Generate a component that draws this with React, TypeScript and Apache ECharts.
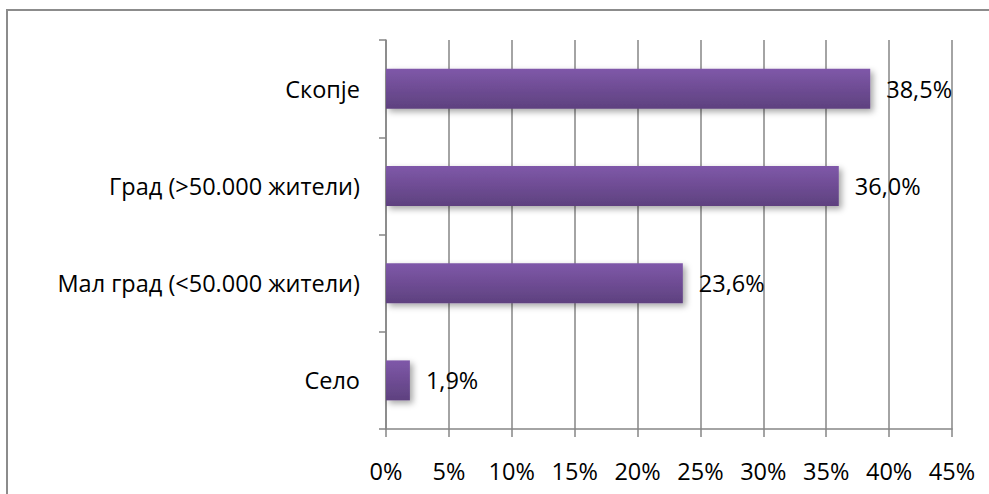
import React, { useEffect, useRef } from "react";
import * as echarts from "echarts";

const categories = ["Скопје", "Град (>50.000 жители)", "Мал град (<50.000 жители)", "Село"];
const values = [38.5, 36.0, 23.6, 1.9];
const xTicks = [0, 5, 10, 15, 20, 25, 30, 35, 40, 45];

const FONT = "Open Sans";
const FS = 23.5;

export default function App() {
  const ref = useRef<HTMLDivElement>(null);
  useEffect(() => {
    const chart = echarts.init(ref.current!, null, { renderer: "svg" });
    chart.setOption({
      animation: false,
      graphic: [
        {
          type: "rect",
          shape: { x: 7, y: 10, width: 1000, height: 500 },
          style: { fill: "none", stroke: "#8c8c8c", lineWidth: 2 },
          silent: true,
        },
      ],
      grid: { left: 386, right: 37, top: 40, bottom: 65, containLabel: false },
      xAxis: {
        type: "value",
        min: xTicks[0],
        max: xTicks[xTicks.length - 1],
        interval: 5,
        axisLine: { show: true, lineStyle: { color: "#868686", width: 1.5 } },
        axisTick: { show: true, length: 8, lineStyle: { color: "#868686", width: 1.5 } },
        splitLine: { show: true, lineStyle: { color: "#868686", width: 1.5 } },
        axisLabel: {
          formatter: (v: number) => v + "%",
          color: "#000",
          fontFamily: FONT,
          fontSize: FS,
          margin: 30,
        },
      },
      yAxis: {
        type: "category",
        inverse: true,
        data: categories,
        axisLine: { show: true, lineStyle: { color: "#868686", width: 1.5 } },
        axisTick: { show: true, length: 7, lineStyle: { color: "#868686", width: 1.5 } },
        axisLabel: { color: "#000", fontFamily: FONT, fontSize: FS, margin: 26 },
      },
      series: [
        {
          type: "bar",
          data: values,
          barWidth: 40,
          itemStyle: {
            color: new echarts.graphic.LinearGradient(0, 0, 0, 1, [
              { offset: 0, color: "#7f58a9" },
              { offset: 1, color: "#5e417f" },
            ]),
            shadowColor: "rgba(0,0,0,0.35)",
            shadowBlur: 6,
            shadowOffsetX: 3,
            shadowOffsetY: 3,
          },
          label: {
            show: true,
            position: "right",
            distance: 16,
            color: "#000",
            fontFamily: FONT,
            fontSize: FS,
            formatter: (p: any) => p.value.toFixed(1).replace(".", ",") + "%",
          },
        },
      ],
    });
    return () => chart.dispose();
  }, []);
  return <div ref={ref} style={{ width: 989, height: 494, position: "absolute", left: 0, top: 0 }} />;
}
